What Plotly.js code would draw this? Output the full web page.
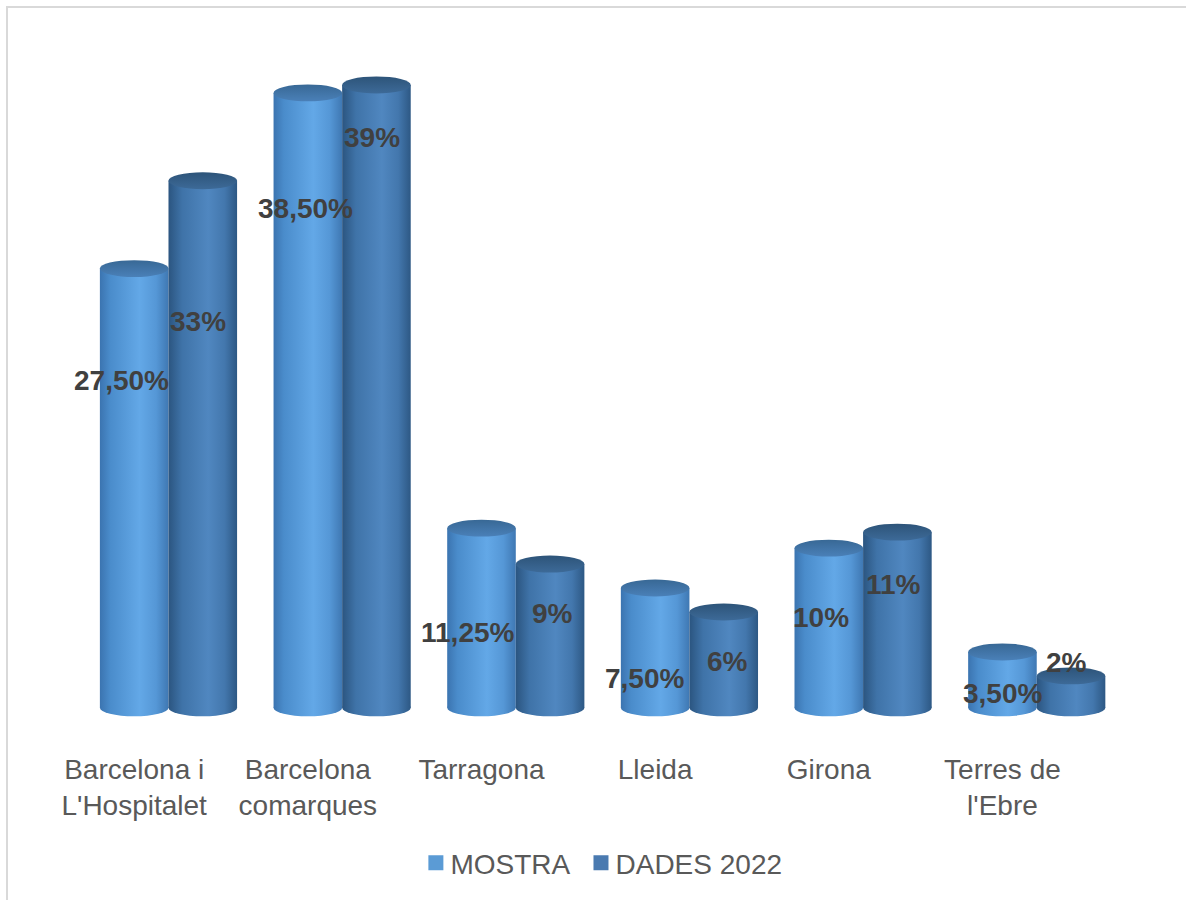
<!DOCTYPE html>
<html>
<head>
<meta charset="utf-8">
<script src="https://cdn.plot.ly/plotly-3.0.1.min.js"></script>
<style>
  html, body { margin: 0; padding: 0; background: #ffffff; overflow: hidden; }
  #chart { position: absolute; left: 0; top: 0; width: 1186px; height: 900px; }
  #frame { position: absolute; left: 6px; top: 6px; width: 1180px; height: 894px;
           border-top: 2px solid #d9d9d9; border-left: 2px solid #d9d9d9;
           pointer-events: none; box-sizing: border-box; }
</style>
</head>
<body>
<div id="chart"></div>
<div id="frame"></div>
<script>
// Regions of Catalonia
const categories = ["Barcelona i<br>L'Hospitalet", "Barcelona<br>comarques", "Tarragona", "Lleida", "Girona", "Terres de<br>l'Ebre"];
// Share per region (%)
const mostra = [27.5, 38.5, 11.25, 7.5, 10, 3.5];
const dades2022 = [33, 39, 9, 6, 11, 2];
const seriesNames = ["MOSTRA", "DADES 2022"];

// Catalan percent format: whole numbers without decimals, others with two
function pct(v) {
  return Number.isInteger(v) ? v + "%" : v.toFixed(2).replace(".", ",") + "%";
}

const FONT = '"Liberation Sans", Arial, sans-serif';
const W = 0.395;      // width of one cylinder, in category units
const RY = 0.53;      // half height of the elliptical ends, in value units

const series = [
  { name: seriesNames[0], values: mostra, offset: -W / 2, color: '#5b9bd5', body: 'gradMostra', cap: 'capMostra',
    drop: [109, 113, 101, 87, 66, 39], nudge: [-13, -2, -13, -11, -8, 0] },
  { name: seriesNames[1], values: dades2022, offset: W / 2, color: '#4a7ab0', body: 'gradDades', cap: 'capDades',
    drop: [138, 50, 46, 46, 49, -16], nudge: [-5, -4, 2, 4, -4, -5] }
];

const traces = series.map(s => ({
  type: 'bar',
  name: s.name,
  x: categories,
  y: s.values,
  offset: s.offset,
  width: W,
  marker: { color: s.color, line: { width: 0 } },
  hoverinfo: 'skip'
}));

// Elliptical bottoms and tops of the cylinders, plus the gradient each one uses
const shapes = [];
const shapeFill = [];
series.forEach(s => {
  s.values.forEach((v, i) => {
    shapes.push({ type: 'circle', xref: 'x', yref: 'y', layer: 'below',
      x0: i + s.offset, x1: i + s.offset + W, y0: -RY, y1: RY,
      fillcolor: s.color, line: { width: 0 } });
    shapeFill.push(s.body);
  });
});
series.forEach(s => {
  s.values.forEach((v, i) => {
    shapes.push({ type: 'circle', xref: 'x', yref: 'y', layer: 'above',
      x0: i + s.offset, x1: i + s.offset + W, y0: v - RY, y1: v + RY,
      fillcolor: s.color, line: { width: 0 } });
    shapeFill.push(s.cap);
  });
});

// Value labels
const annotations = [];
series.forEach(s => {
  s.values.forEach((v, i) => {
    annotations.push({
      xref: 'x', yref: 'y', x: i + s.offset + W / 2, y: v,
      text: pct(v), showarrow: false, xanchor: 'center', yanchor: 'middle',
      yshift: -s.drop[i] - 3, xshift: s.nudge[i],
      font: { family: FONT, size: 28, color: '#404040', weight: 700 }
    });
  });
});

const layout = {
  width: 1186, height: 900,
  margin: { l: 30, r: 62, t: 37, b: 168 },
  paper_bgcolor: 'rgba(0,0,0,0)',
  plot_bgcolor: 'rgba(0,0,0,0)',
  barmode: 'group',
  showlegend: true,
  legend: { orientation: 'h', x: 0.52, xanchor: 'center', y: -0.197, yanchor: 'middle',
            font: { family: FONT, size: 28, color: '#595959' }, itemclick: false },
  xaxis: { type: 'category', range: [-0.6, 5.7], showgrid: false, zeroline: false, showline: false,
           ticks: '', ticklabelstandoff: 23,
           tickfont: { family: FONT, size: 28, color: '#595959' } },
  yaxis: { range: [-1.2, 42], visible: false, showgrid: false, zeroline: false },
  shapes: shapes,
  annotations: annotations
};

function addGradients(gd) {
  const svg = gd.querySelector('svg.main-svg');
  const NS = 'http://www.w3.org/2000/svg';
  const defs = document.createElementNS(NS, 'defs');
  function grad(id, vertical, stops) {
    const g = document.createElementNS(NS, 'linearGradient');
    g.setAttribute('id', id);
    g.setAttribute('x1', '0'); g.setAttribute('y1', '0');
    g.setAttribute('x2', vertical ? '0' : '1'); g.setAttribute('y2', vertical ? '1' : '0');
    stops.forEach(([o, c]) => {
      const st = document.createElementNS(NS, 'stop');
      st.setAttribute('offset', o); st.setAttribute('stop-color', c);
      g.appendChild(st);
    });
    defs.appendChild(g);
  }
  grad('gradMostra', false, [['0', '#3b74b0'], ['0.15', '#4a8ccb'], ['0.58', '#63a8e7'], ['0.82', '#5597d6'], ['1', '#3f78b3']]);
  grad('gradDades', false, [['0', '#2b5580'], ['0.2', '#3f73a8'], ['0.58', '#5087c0'], ['0.82', '#4377ad'], ['1', '#2d5884']]);
  grad('capMostra', true, [['0', '#386895'], ['1', '#4a80b8']]);
  grad('capDades', true, [['0', '#2d5479'], ['1', '#3d6a98']]);
  svg.insertBefore(defs, svg.firstChild);

  gd.querySelectorAll('.barlayer .trace').forEach((t, k) => {
    t.querySelectorAll('path').forEach(p => { p.style.fill = 'url(#' + series[k].body + ')'; });
  });
  gd.querySelectorAll('.shapelayer path[data-index]').forEach(p => {
    const idx = +p.getAttribute('data-index');
    if (shapeFill[idx]) p.style.fill = 'url(#' + shapeFill[idx] + ')';
  });
  // Larger legend squares, set closer to their text
  gd.querySelectorAll('.legend .legendpoints path').forEach(p => {
    p.setAttribute('d', 'M13,7.5H-2V-7.5H13Z');
  });
}

Plotly.newPlot('chart', traces, layout, { displayModeBar: false, staticPlot: true })
  .then(addGradients);
</script>
</body>
</html>
